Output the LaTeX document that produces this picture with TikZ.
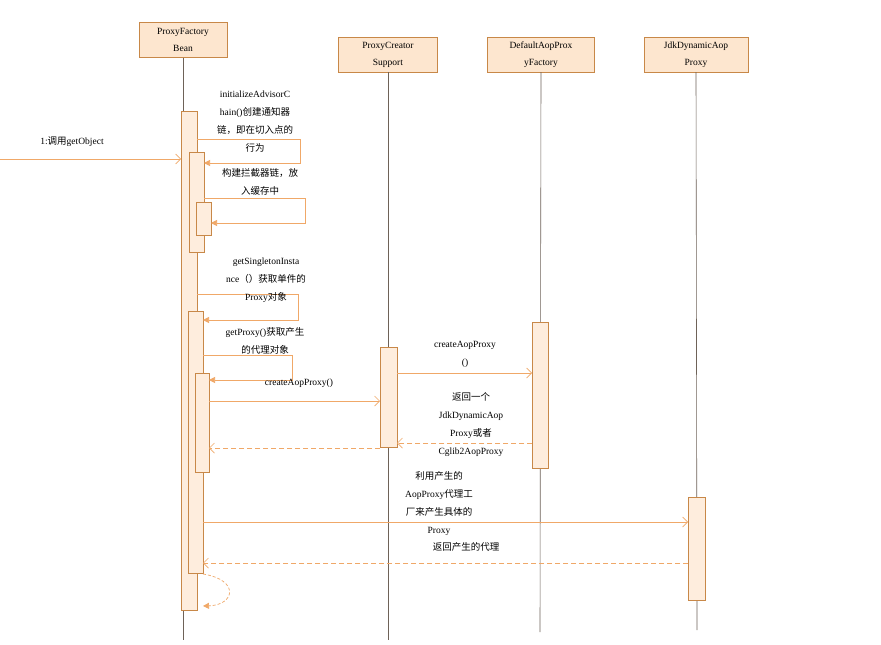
\documentclass[tikz,border=0pt]{standalone}
\usepackage{fontspec}
\setmainfont{Liberation Serif}
\newfontfamily\cjk{Noto Sans CJK SC}
\usetikzlibrary{arrows.meta}
\definecolor{ln}{HTML}{F0A868}
\definecolor{bd}{HTML}{C88848}
\definecolor{fl}{HTML}{FDE6CF}
\definecolor{ll}{HTML}{6E6258}
\tikzset{
 x=1pt,y=-1pt,
 head/.style={draw=bd,fill=fl,minimum height=35pt,align=center,font=\fontsize{9.5}{17}\selectfont,inner sep=1pt},
 act/.style={draw=bd,fill=fl!70,line width=0.6pt},
 life/.style={draw=ll,line width=0.6pt},
 msg/.style={draw=ln,line width=0.7pt,-{Straight Barb[length=5pt,width=10pt]}},
 self/.style={draw=ln,line width=0.7pt,-{Triangle[length=6pt,width=6pt]}},
 ret/.style={draw=ln,line width=0.7pt,dashed,dash pattern=on 5pt off 3pt,-{Straight Barb[length=5pt,width=10pt]}},
 lbl/.style={align=center,font=\fontsize{9.5}{18}\selectfont,inner sep=0pt},
}
\begin{document}
\begin{tikzpicture}
\useasboundingbox[fill=white] (0,0) rectangle (881,645);
% heads
\node[head,minimum width=88pt] (h1) at (183,40) {ProxyFactory\\Bean};
\node[head,minimum width=99pt] (h2) at (388,54.5) {ProxyCreator\\Support};
\node[head,minimum width=107pt] (h3) at (541,54.5) {DefaultAopProx\\yFactory};
\node[head,minimum width=104pt] (h4) at (696,54.5) {JdkDynamicAop\\Proxy};
\coordinate (e1) at (183,640); \coordinate (e2) at (388,640);
\coordinate (e3) at (540,632); \coordinate (e4) at (697,630);
\draw[life] (h1.south) -- (e1); \draw[life] (h2.south) -- (e2);
\draw[life] (h3.south) -- (e3); \draw[life] (h4.south) -- (e4);
% activations
\draw[act] (181,111) rectangle (197,610);
\draw[act] (189,152) rectangle (204,252);
\draw[act] (196,202) rectangle (211,235);
\draw[act] (188,311) rectangle (203,573);
\draw[act] (195,373) rectangle (209,472);
\draw[act] (380,347) rectangle (397,447);
\draw[act] (532,322) rectangle (548,468);
\draw[act] (688,497) rectangle (705,600);
% messages
\coordinate (s0) at (0,159); \coordinate (t0) at (181,159);
\draw[msg] (s0) -- (t0);
\node[lbl] (l0) at (72,142) {1:{\cjk 调用}getObject};
\draw[self] (197,139) -- (300,139) -- (300,163) -- (204,163);
\node[lbl] (l1) at (255,122) {initializeAdvisorC\\hain(){\cjk 创建通知器}\\{\cjk 链，即在切入点的}\\{\cjk 行为}};
\draw[self] (204,198) -- (305,198) -- (305,223) -- (211,223);
\node[lbl] (l2) at (260,182) {{\cjk 构建拦截器链，放}\\{\cjk 入缓存中}};
\draw[self] (197,294) -- (298,294) -- (298,320) -- (203,320);
\node[lbl] (l3) at (266,280) {getSingletonInsta\\nce{\cjk （）获取单件的}\\Proxy{\cjk 对象}};
\draw[self] (203,355) -- (292,355) -- (292,380) -- (209,380);
\node[lbl] (l4) at (265,341) {getProxy(){\cjk 获取产生}\\{\cjk 的代理对象}};
\draw[msg] (209,401) -- (380,401);
\node[lbl] (l5) at (299,383) {createAopProxy()};
\draw[msg] (397,373) -- (532,373);
\node[lbl] (l6) at (465,354) {createAopProxy\\()};
\draw[ret] (532,443) -- (397,443);
\node[lbl] (l7) at (471,425) {{\cjk 返回一个}\\JdkDynamicAop\\Proxy{\cjk 或者}\\Cglib2AopProxy};
\draw[ret] (380,448) -- (209,448);
\draw[msg] (203,522) -- (688,522);
\node[lbl] (l8) at (439,504) {{\cjk 利用产生的}\\AopProxy{\cjk 代理工}\\{\cjk 厂来产生具体的}\\Proxy};
\draw[ret] (688,563) -- (203,563);
\node[lbl] (l9) at (466,547) {{\cjk 返回产生的代理}};
\draw[draw=ln,line width=0.7pt,dashed,dash pattern=on 3pt off 2pt,-{Triangle[length=6pt,width=6pt]}] (203,574) .. controls (240,580) and (235,605) .. (203,606);
\end{tikzpicture}
\end{document}
